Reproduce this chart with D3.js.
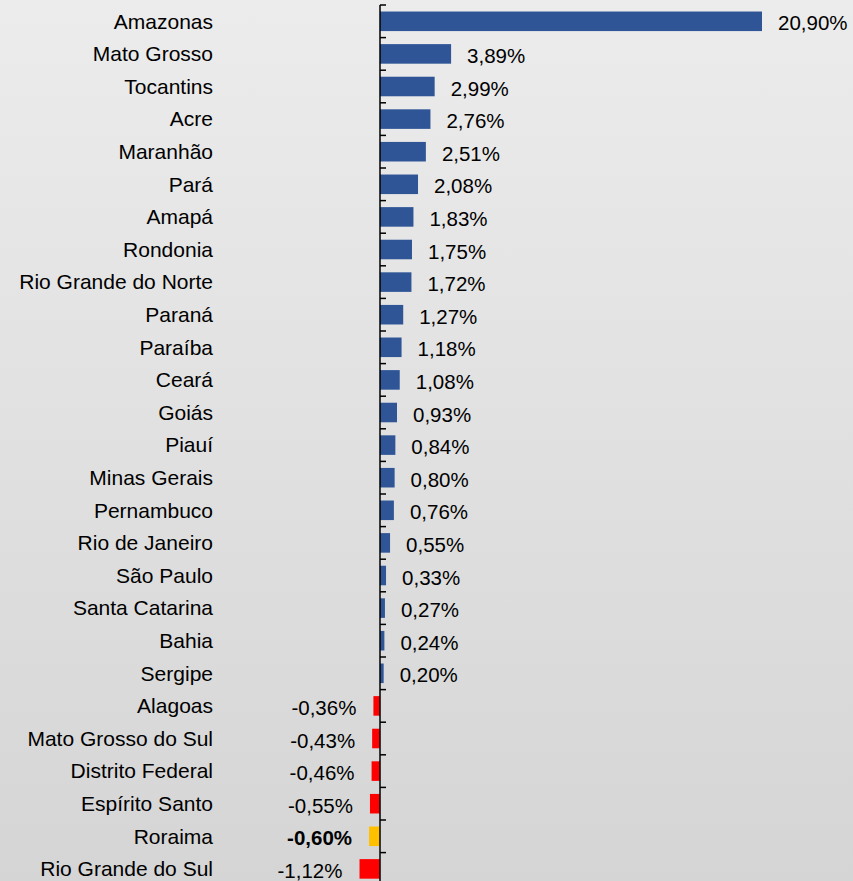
<!DOCTYPE html>
<meta charset="utf-8">
<script src="https://d3js.org/d3.v7.min.js"></script>
<style>
  body { margin: 0; }
  svg { display: block; }
</style>
<div id="my_dataviz"></div>
<script>
    // data
    const states = ["Amazonas", "Mato Grosso", "Tocantins", "Acre", "Maranhão", "Pará", "Amapá", "Rondonia",
        "Rio Grande do Norte", "Paraná", "Paraíba", "Ceará", "Goiás", "Piauí", "Minas Gerais", "Pernambuco",
        "Rio de Janeiro", "São Paulo", "Santa Catarina", "Bahia", "Sergipe", "Alagoas", "Mato Grosso do Sul",
        "Distrito Federal", "Espírito Santo", "Roraima", "Rio Grande do Sul"];
    const values = [20.90, 3.89, 2.99, 2.76, 2.51, 2.08, 1.83, 1.75, 1.72, 1.27, 1.18, 1.08, 0.93, 0.84, 0.80, 0.76,
        0.55, 0.33, 0.27, 0.24, 0.20, -0.36, -0.43, -0.46, -0.55, -0.60, -1.12];
    const highlight = "Roraima";

    const width = 853, height = 881;
    const font = "'Liberation Sans', Arial, sans-serif";

    const svg = d3.select("#my_dataviz")
        .append("svg")
        .attr("width", width)
        .attr("height", height);

    // background gradient
    const grad = svg.append("defs").append("linearGradient")
        .attr("id", "bg")
        .attr("x1", 0).attr("y1", 0).attr("x2", 0).attr("y2", 1);
    grad.append("stop").attr("offset", "0%").attr("stop-color", "#ececec");
    grad.append("stop").attr("offset", "100%").attr("stop-color", "#d5d5d5");
    svg.append("rect").attr("width", width).attr("height", height).attr("fill", "url(#bg)");

    const data = states.map((s, i) => ({ state: s, value: values[i] }));

    const x = d3.scaleLinear()
        .domain([0, 20.90])
        .range([380, 762]);

    const y = d3.scaleBand()
        .domain(states)
        .range([5, 5 + 32.6 * states.length])
        .paddingInner(0.4)
        .paddingOuter(0.2);

    const color = d => d.state === highlight ? "#ffc000" : (d.value < 0 ? "#ff0000" : "#2f5597");

    // bars
    svg.append("g")
        .selectAll("rect")
        .data(data)
        .join("rect")
        .attr("x", d => x(Math.min(0, d.value)))
        .attr("y", d => y(d.state))
        .attr("width", d => Math.abs(x(d.value) - x(0)))
        .attr("height", y.bandwidth())
        .attr("fill", color);

    // vertical axis with ticks between categories
    const axis = svg.append("g");
    axis.append("line")
        .attr("x1", x(0)).attr("x2", x(0))
        .attr("y1", y.range()[0]).attr("y2", height)
        .attr("stroke", "#000").attr("stroke-width", 1.5);
    axis.selectAll(".tick")
        .data(d3.range(states.length + 1))
        .join("line")
        .attr("class", "tick")
        .attr("x1", x(0)).attr("x2", x(0) + 6)
        .attr("y1", i => y.range()[0] + i * y.step())
        .attr("y2", i => y.range()[0] + i * y.step())
        .attr("stroke", "#000").attr("stroke-width", 1.5);

    // category labels
    svg.append("g")
        .selectAll("text")
        .data(data)
        .join("text")
        .attr("x", 213)
        .attr("y", d => y(d.state) + y.bandwidth() / 2)
        .attr("dy", "0.35em")
        .attr("text-anchor", "end")
        .style("font-family", font)
        .style("font-size", "21px")
        .attr("fill", "#000")
        .text(d => d.state);

    // value labels
    const fmt = v => d3.format(".2f")(v).replace(".", ",").replace("−", "-") + "%";
    svg.append("g")
        .selectAll("text")
        .data(data)
        .join("text")
        .attr("x", d => d.value < 0 ? x(d.value) - 17 : x(d.value) + 16)
        .attr("y", d => y(d.state) + y.bandwidth() / 2 + 2)
        .attr("dy", "0.35em")
        .attr("text-anchor", d => d.value < 0 ? "end" : "start")
        .style("font-family", font)
        .style("font-size", "20.5px")
        .style("font-weight", d => d.state === highlight ? "bold" : "normal")
        .attr("fill", "#000")
        .text(d => fmt(d.value));
</script>
